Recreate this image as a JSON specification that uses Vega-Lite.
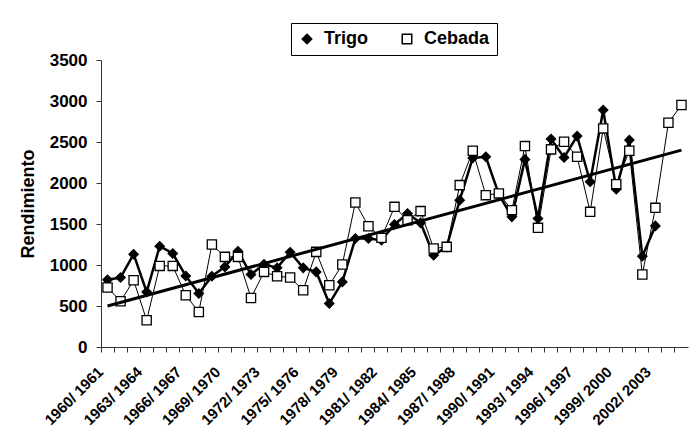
{
  "$schema": "https://vega.github.io/schema/vega-lite/v6.json",
  "padding": {"left": 101, "top": 60, "right": 5, "bottom": 98},
  "autosize": {"type": "none"},
  "width": 587,
  "height": 287,
  "background": "white",
  "config": {
    "view": {"stroke": null},
    "font": "Liberation Sans",
    "axis": {"labelFont": "Liberation Sans", "titleFont": "Liberation Sans", "labelFontWeight": "bold", "titleFontWeight": "bold", "labelColor": "black", "titleColor": "black", "domainColor": "#333", "tickColor": "#333", "grid": false},
    "legend": {"labelFont": "Liberation Sans", "labelFontWeight": "bold", "labelFontSize": 18, "labelColor": "black"}
  },
  "datasets": {
    "rend": [
      {"t": "1960/ 1961", "s": "Trigo", "v": 820},
      {"t": "1961/ 1962", "s": "Trigo", "v": 847},
      {"t": "1962/ 1963", "s": "Trigo", "v": 1132},
      {"t": "1963/ 1964", "s": "Trigo", "v": 671},
      {"t": "1964/ 1965", "s": "Trigo", "v": 1229},
      {"t": "1965/ 1966", "s": "Trigo", "v": 1140},
      {"t": "1966/ 1967", "s": "Trigo", "v": 867},
      {"t": "1967/ 1968", "s": "Trigo", "v": 652},
      {"t": "1968/ 1969", "s": "Trigo", "v": 863},
      {"t": "1969/ 1970", "s": "Trigo", "v": 977},
      {"t": "1970/ 1971", "s": "Trigo", "v": 1168},
      {"t": "1971/ 1972", "s": "Trigo", "v": 884},
      {"t": "1972/ 1973", "s": "Trigo", "v": 1010},
      {"t": "1973/ 1974", "s": "Trigo", "v": 965},
      {"t": "1974/ 1975", "s": "Trigo", "v": 1156},
      {"t": "1975/ 1976", "s": "Trigo", "v": 965},
      {"t": "1976/ 1977", "s": "Trigo", "v": 916},
      {"t": "1977/ 1978", "s": "Trigo", "v": 530},
      {"t": "1978/ 1979", "s": "Trigo", "v": 794},
      {"t": "1979/ 1980", "s": "Trigo", "v": 1323},
      {"t": "1980/ 1981", "s": "Trigo", "v": 1323},
      {"t": "1981/ 1982", "s": "Trigo", "v": 1303},
      {"t": "1982/ 1983", "s": "Trigo", "v": 1494},
      {"t": "1983/ 1984", "s": "Trigo", "v": 1628},
      {"t": "1984/ 1985", "s": "Trigo", "v": 1514},
      {"t": "1985/ 1986", "s": "Trigo", "v": 1119},
      {"t": "1986/ 1987", "s": "Trigo", "v": 1221},
      {"t": "1987/ 1988", "s": "Trigo", "v": 1791},
      {"t": "1988/ 1989", "s": "Trigo", "v": 2306},
      {"t": "1989/ 1990", "s": "Trigo", "v": 2320},
      {"t": "1990/ 1991", "s": "Trigo", "v": 1860},
      {"t": "1991/ 1992", "s": "Trigo", "v": 1587},
      {"t": "1992/ 1993", "s": "Trigo", "v": 2288},
      {"t": "1993/ 1994", "s": "Trigo", "v": 1567},
      {"t": "1994/ 1995", "s": "Trigo", "v": 2536},
      {"t": "1995/ 1996", "s": "Trigo", "v": 2312},
      {"t": "1996/ 1997", "s": "Trigo", "v": 2572},
      {"t": "1997/ 1998", "s": "Trigo", "v": 2015},
      {"t": "1998/ 1999", "s": "Trigo", "v": 2890},
      {"t": "1999/ 2000", "s": "Trigo", "v": 1925},
      {"t": "2000/ 2001", "s": "Trigo", "v": 2523},
      {"t": "2001/ 2002", "s": "Trigo", "v": 1107},
      {"t": "2002/ 2003", "s": "Trigo", "v": 1477},
      {"t": "1960/ 1961", "s": "Cebada", "v": 725},
      {"t": "1961/ 1962", "s": "Cebada", "v": 558},
      {"t": "1962/ 1963", "s": "Cebada", "v": 814},
      {"t": "1963/ 1964", "s": "Cebada", "v": 326},
      {"t": "1964/ 1965", "s": "Cebada", "v": 989},
      {"t": "1965/ 1966", "s": "Cebada", "v": 989},
      {"t": "1966/ 1967", "s": "Cebada", "v": 631},
      {"t": "1967/ 1968", "s": "Cebada", "v": 427},
      {"t": "1968/ 1969", "s": "Cebada", "v": 1250},
      {"t": "1969/ 1970", "s": "Cebada", "v": 1099},
      {"t": "1970/ 1971", "s": "Cebada", "v": 1099},
      {"t": "1971/ 1972", "s": "Cebada", "v": 598},
      {"t": "1972/ 1973", "s": "Cebada", "v": 916},
      {"t": "1973/ 1974", "s": "Cebada", "v": 863},
      {"t": "1974/ 1975", "s": "Cebada", "v": 847},
      {"t": "1975/ 1976", "s": "Cebada", "v": 692},
      {"t": "1976/ 1977", "s": "Cebada", "v": 1160},
      {"t": "1977/ 1978", "s": "Cebada", "v": 753},
      {"t": "1978/ 1979", "s": "Cebada", "v": 1006},
      {"t": "1979/ 1980", "s": "Cebada", "v": 1763},
      {"t": "1980/ 1981", "s": "Cebada", "v": 1473},
      {"t": "1981/ 1982", "s": "Cebada", "v": 1331},
      {"t": "1982/ 1983", "s": "Cebada", "v": 1709},
      {"t": "1983/ 1984", "s": "Cebada", "v": 1547},
      {"t": "1984/ 1985", "s": "Cebada", "v": 1657},
      {"t": "1985/ 1986", "s": "Cebada", "v": 1201},
      {"t": "1986/ 1987", "s": "Cebada", "v": 1221},
      {"t": "1987/ 1988", "s": "Cebada", "v": 1974},
      {"t": "1988/ 1989", "s": "Cebada", "v": 2393},
      {"t": "1989/ 1990", "s": "Cebada", "v": 1852},
      {"t": "1990/ 1991", "s": "Cebada", "v": 1873},
      {"t": "1991/ 1992", "s": "Cebada", "v": 1669},
      {"t": "1992/ 1993", "s": "Cebada", "v": 2450},
      {"t": "1993/ 1994", "s": "Cebada", "v": 1453},
      {"t": "1994/ 1995", "s": "Cebada", "v": 2410},
      {"t": "1995/ 1996", "s": "Cebada", "v": 2503},
      {"t": "1996/ 1997", "s": "Cebada", "v": 2320},
      {"t": "1997/ 1998", "s": "Cebada", "v": 1648},
      {"t": "1998/ 1999", "s": "Cebada", "v": 2666},
      {"t": "1999/ 2000", "s": "Cebada", "v": 1986},
      {"t": "2000/ 2001", "s": "Cebada", "v": 2393},
      {"t": "2001/ 2002", "s": "Cebada", "v": 884},
      {"t": "2002/ 2003", "s": "Cebada", "v": 1697},
      {"t": "2003/ 2004", "s": "Cebada", "v": 2735},
      {"t": "2004/ 2005", "s": "Cebada", "v": 2951}
    ],
    "trend": [
      {"t": "1960/ 1961", "v": 500},
      {"t": "2004/ 2005", "v": 2401}
    ]
  },
  "layer": [
    {
      "data": {"name": "rend"},
      "transform": [{"filter": "datum.s === 'Trigo'"}],
      "mark": {"type": "line", "color": "black", "strokeWidth": 2.5},
      "encoding": {
        "x": {
          "field": "t", "type": "ordinal", "bandPosition": 0.5,
          "scale": {"type": "band", "paddingInner": 0, "paddingOuter": 0},
          "axis": {
            "title": null, "bandPosition": 0, "labelAngle": -45, "labelAlign": "right", "labelBaseline": "middle",
            "labelFontSize": 15, "labelPadding": 17, "labelOffset": -7, "tickSize": 5, "labelOverlap": false,
            "labelExpr": "(toNumber(substring(datum.value, 0, 4)) - 1960) % 3 == 0 ? datum.value : ''"
          }
        },
        "y": {
          "field": "v", "type": "quantitative",
          "scale": {"domain": [0, 3500], "nice": false},
          "axis": {"title": "Rendimiento", "values": [0, 500, 1000, 1500, 2000, 2500, 3000, 3500], "format": "d", "labelFontSize": 17, "titleFontSize": 18, "tickSize": 5, "labelPadding": 9, "titlePadding": 12}
        }
      }
    },
    {
      "data": {"name": "rend"},
      "transform": [{"filter": "datum.s === 'Cebada'"}],
      "mark": {"type": "line", "color": "black", "strokeWidth": 1},
      "encoding": {
        "x": {"field": "t", "type": "ordinal", "bandPosition": 0.5},
        "y": {"field": "v", "type": "quantitative"}
      }
    },
    {
      "data": {"name": "rend"},
      "mark": {"type": "point", "filled": true, "size": 85, "stroke": "black", "strokeWidth": 1.3, "opacity": 1},
      "encoding": {
        "x": {"field": "t", "type": "ordinal", "bandPosition": 0.5},
        "y": {"field": "v", "type": "quantitative"},
        "shape": {"field": "s", "type": "nominal", "title": null, "scale": {"domain": ["Trigo", "Cebada"], "range": ["diamond", "square"]}},
        "color": {"field": "s", "type": "nominal", "title": null, "scale": {"domain": ["Trigo", "Cebada"], "range": ["black", "white"]},
          "legend": {"orient": "none", "legendX": 190, "legendY": -37, "direction": "horizontal", "strokeColor": "black", "padding": 7, "fillColor": "white", "symbolStrokeColor": "black", "symbolSize": 90, "labelOffset": 8, "columnPadding": 30}
        }
      }
    },
    {
      "data": {"name": "trend"},
      "mark": {"type": "line", "color": "black", "strokeWidth": 3},
      "encoding": {
        "x": {"field": "t", "type": "ordinal", "bandPosition": 0.5},
        "y": {"field": "v", "type": "quantitative"}
      }
    }
  ]
}
